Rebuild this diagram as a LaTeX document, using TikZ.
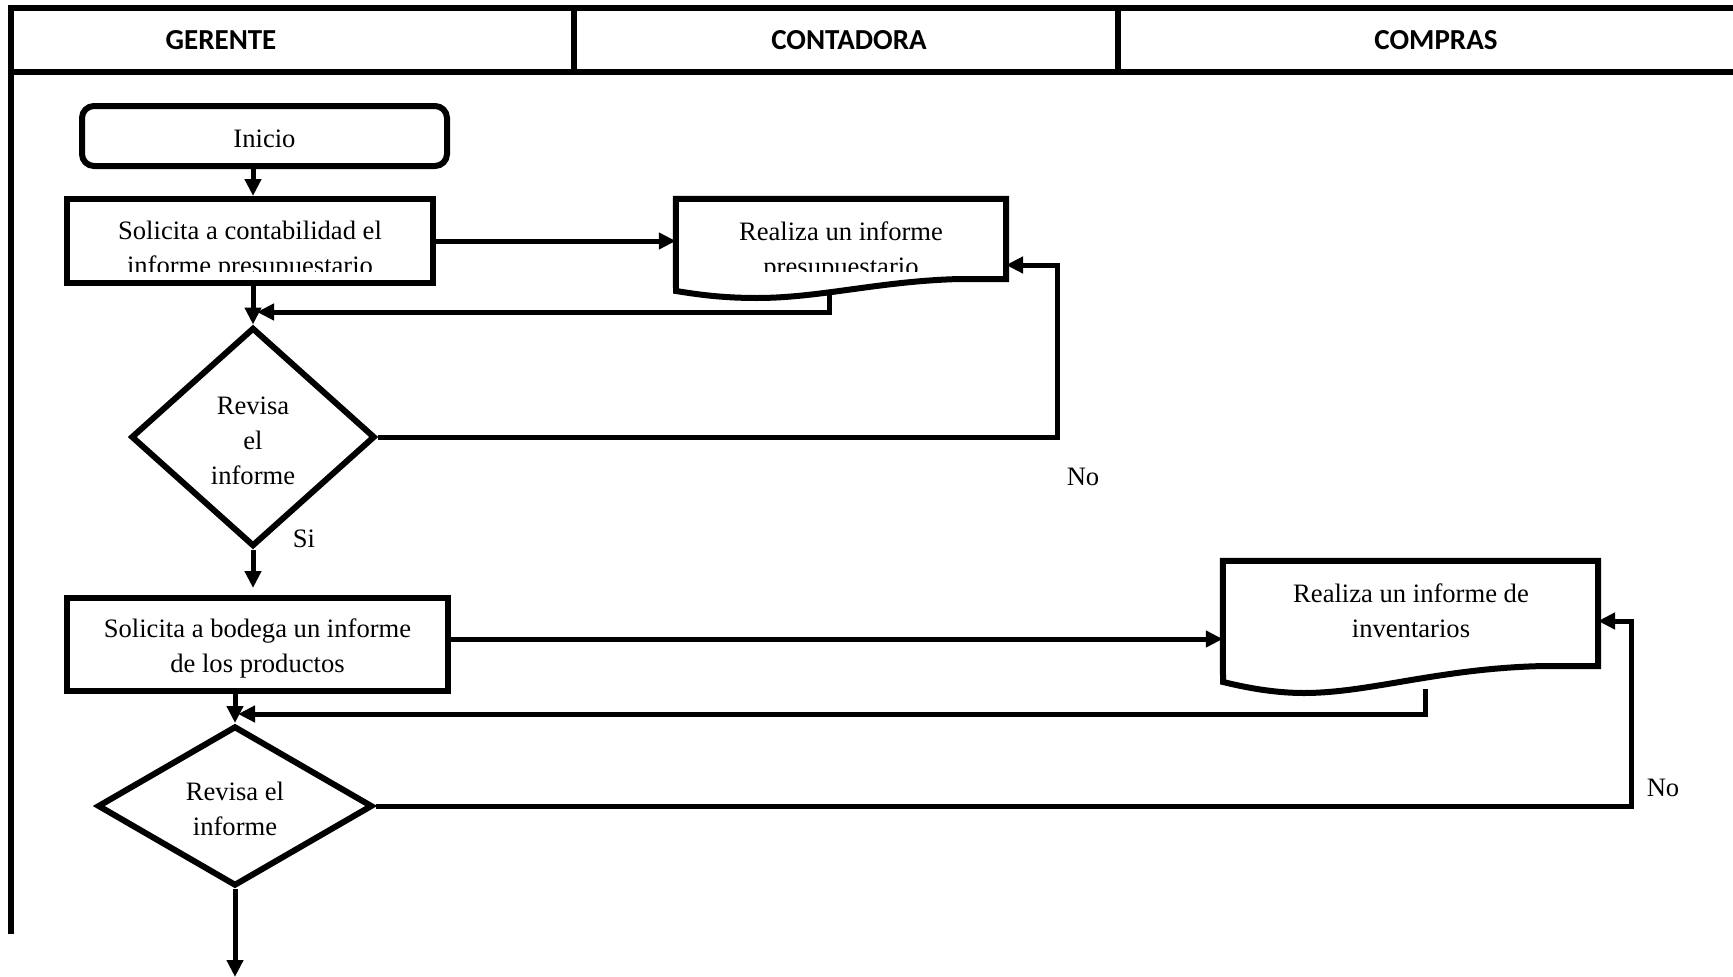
\documentclass[tikz,border=0pt]{standalone}
\usepackage{fontspec}
\setmainfont{Liberation Serif}
\newfontfamily\lanefont{Carlito}
\usetikzlibrary{arrows.meta,shapes.geometric,calc}
\newcommand\flowtext{\fontsize{26.6}{35}\selectfont}
\newcommand\headtext{\lanefont\bfseries\fontsize{29}{34}\selectfont}

\begin{document}
\begin{tikzpicture}[x=1pt,y=-1pt,
  lane/.style={line width=6pt},
  box/.style={draw,line width=6pt,inner sep=0pt},
  txt/.style={inner sep=0pt,align=center,font=\flowtext},
  lanehead/.style={inner sep=0pt,font=\headtext},
  outline/.style={draw,line width=6pt,line join=miter},
  flow/.style={line width=5pt,-{Triangle[length=17pt,width=16pt]}}]

% canvas
\fill[white] (0,0) rectangle (1733,977);
\useasboundingbox (0,0) rectangle (1733,977);

% swimlane frame
\draw[lane] (8,8) -- (1733,8);
\draw[lane] (8,72) -- (1733,72);
\draw[lane] (11,5) -- (11,934);
\draw[lane] (574,8) -- (574,72);
\draw[lane] (1118,8) -- (1118,72);
\node[lanehead] (hGer) at (221,40) {GERENTE};
\node[lanehead] (hCon) at (849,40) {CONTADORA};
\node[lanehead] (hCom) at (1436,40) {COMPRAS};

% start
\node[box,rounded corners=12pt,minimum width=365pt,minimum height=60pt] (inicio) at (264.5,136) {};
\node[txt] (inicioTxt) at (264.5,139) {Inicio};

% request to accounting
\node[box,minimum width=366pt,minimum height=84pt] (solA) at (250,241) {};
\begin{scope}
  \clip (70,202) rectangle (430,271);
  \node[txt] (solAtxt) at (250,251) {Solicita a contabilidad el\\informe presupuestario};
\end{scope}

% budget report (document)
\node[minimum width=330pt,minimum height=80pt,inner sep=0pt] (docA) at (841,239) {};
\path[outline] (docA.north west) -- (docA.north east) -- (1006,279) -- (960,279)
  .. controls (880,281) and (820,298) .. (757,298)
  .. controls (720,298) and (695,294) .. (676,291) -- cycle;
\begin{scope}
  \clip (680,202) rectangle (1002,271);
  \node[txt] (docAtxt) at (841,251) {Realiza un informe\\presupuestario};
\end{scope}

% first decision
\node[box,diamond,minimum width=244pt,minimum height=219pt] (decA) at (253,437) {};
\node[txt] (decAtxt) at (253,441) {Revisa\\el\\informe};

% request to warehouse
\node[box,minimum width=381pt,minimum height=93pt] (solB) at (257.5,644.5) {};
\node[txt] (solBtxt) at (257.5,648) {Solicita a bodega un informe\\de los productos};

% inventory report (document)
\node[minimum width=375pt,minimum height=105pt,inner sep=0pt] (docB) at (1410.5,613.5) {};
\path[outline] (docB.north west) -- (docB.north east) -- (1598,666) -- (1545,666)
  .. controls (1440,668) and (1370,693) .. (1304,693)
  .. controls (1270,693) and (1240,686) .. (1223,682) -- cycle;
\node[txt] (docBtxt) at (1411,611) {Realiza un informe de\\inventarios};

% second decision
\node[box,diamond,minimum width=275pt,minimum height=160pt] (decB) at (235,806) {};
\node[txt] (decBtxt) at (235,809) {Revisa el\\informe};

% labels
\node[txt] (noA) at (1083,477) {No};
\node[txt] (siA) at (304,539) {Si};
\node[txt] (noB) at (1663,788) {No};

% connector end points
\coordinate (retA) at (829,293);
\coordinate (joinA) at (257,312);
\coordinate (docAin) at (1006,265);
\coordinate (toB) at (253,588);
\coordinate (outB) at ([yshift=5.5pt]solB.east);
\coordinate (retB) at (1425,689);
\coordinate (joinB) at (238,714);
\coordinate (docBin) at (1598,621);
\coordinate (endB) at (235,977);

% connectors
\draw[flow] (inicio.south -| solA.north) ++(3,0) -- ([xshift=3pt]solA.north);
\draw[flow] (solA.east) -- (solA.east -| docA.west);
\draw[flow] (retA) |- (joinA);
\draw[flow] (solA.south -| decA.north) -- (decA.north);
\draw[flow] (decA.east) -| ($(docAin)+(51,0)$) -- (docAin);
\draw[flow] (decA.south) -- (toB);
\draw[flow] (outB) -- (outB -| docB.west);
\draw[flow] (retB) |- (joinB);
\draw[flow] (solB.south -| decB.north) -- (decB.north);
\draw[flow] (decB.east) -| ($(docBin)+(33,0)$) -- (docBin);
\draw[flow] (decB.south) -- (endB);
\end{tikzpicture}
\end{document}
